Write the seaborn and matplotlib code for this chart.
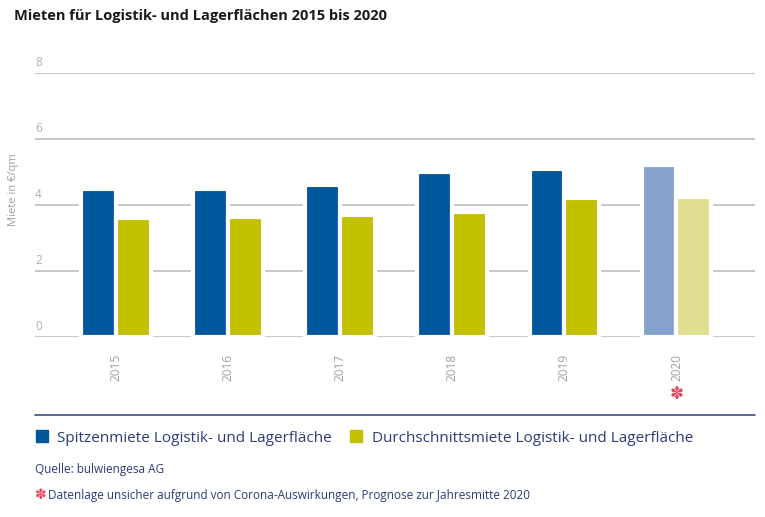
import matplotlib.pyplot as plt
import seaborn as sns
import pandas as pd
from matplotlib.lines import Line2D
from matplotlib.patches import Patch

years = ['2015', '2016', '2017', '2018', '2019', '2020']
spitzenmiete = [4.5, 4.5, 4.6, 5.0, 5.1, 5.2]
durchschnitt = [3.6, 3.65, 3.7, 3.8, 4.2, 4.25]
y_ticks = [0, 2, 4, 6, 8]

blue, yellow = '#00579b', '#c3c000'
blue_light, yellow_light = '#84a3cc', '#e0df90'
grey = '#a0a0a0'

sns.set_theme(style='white')
plt.rcParams['font.family'] = ['Open Sans', 'DejaVu Sans']

df = pd.DataFrame({
    'Jahr': years * 2,
    'Miete': spitzenmiete + durchschnitt,
    'Art': ['Spitzen'] * len(years) + ['Durch'] * len(years),
})

fig = plt.figure(figsize=(7.65, 5.17), dpi=100)
ax = fig.add_axes([35 / 765, (517 - 337) / 517, 720 / 765, 264 / 517])

# white bar edges leave a gap in the gridlines next to each bar
sns.barplot(data=df, x='Jahr', y='Miete', hue='Art', palette=[blue, yellow],
            saturation=1, width=0.62, edgecolor='white', linewidth=3,
            legend=False, ax=ax, zorder=3)

# 2020 is a forecast: lighter colours
n = len(years)
for i, p in enumerate(ax.patches[:2 * n]):
    if i == n - 1:
        p.set_facecolor(blue_light)
    elif i == 2 * n - 1:
        p.set_facecolor(yellow_light)

ax.set_ylim(0, 8)
ax.set_xlim(-0.72, n - 1 + 0.7)
for t in y_ticks:
    ax.axhline(t, color='#bdbdbd', lw=1.2, zorder=1)
    ax.text(-0.72, t + 0.12, str(t), color='#b0b0b0', fontsize=8.5, ha='left', va='bottom')
ax.set_yticks([])
ax.set_xticks(range(n))
ax.set_xticklabels(years, rotation=90, color=grey, fontsize=8.5)
ax.tick_params(axis='x', length=0, pad=12)
ax.set_xlabel('')
ax.set_ylabel('')
for s in ax.spines.values():
    s.set_visible(False)

fig.text(14 / 765, 1 - 190 / 517, 'Miete in €/qm', rotation=90, color=grey,
         fontsize=8, ha='center', va='center')
fig.text(14 / 765, 1 - 16 / 517, 'Mieten für Logistik- und Lagerflächen 2015 bis 2020',
         fontsize=10.5, fontweight='bold', color='#1a1a1a', va='center')
fig.text(677 / 765, 1 - 394 / 517, '✽', color='#e8475a', fontsize=12,
         ha='center', va='center', family=['DejaVu Sans'])

fig.add_artist(Line2D([35 / 765, 755 / 765], [1 - 415 / 517] * 2, color='#3b4a8a', lw=1.2))

handles = [Patch(color=blue), Patch(color=yellow)]
fig.legend(handles, ['Spitzenmiete Logistik- und Lagerfläche',
                     'Durchschnittsmiete Logistik- und Lagerfläche'],
           loc='center left', bbox_to_anchor=(22 / 765, 1 - 438 / 517), ncol=2,
           frameon=False, fontsize=11, handlelength=0.8, handleheight=0.8,
           columnspacing=1.2, handletextpad=0.6, labelcolor='#2d3a7a')

fig.text(35 / 765, 1 - 470 / 517, 'Quelle: bulwiengesa AG', fontsize=8.5,
         color='#2d3a7a', va='center')
fig.text(35 / 765, 1 - 495 / 517, '✽', color='#e8475a', fontsize=10,
         va='center', family=['DejaVu Sans'])
fig.text(48 / 765, 1 - 495 / 517,
         'Datenlage unsicher aufgrund von Corona-Auswirkungen, Prognose zur Jahresmitte 2020',
         fontsize=8.5, color='#2d3a7a', va='center')

fig.savefig('out.png', dpi=100)
